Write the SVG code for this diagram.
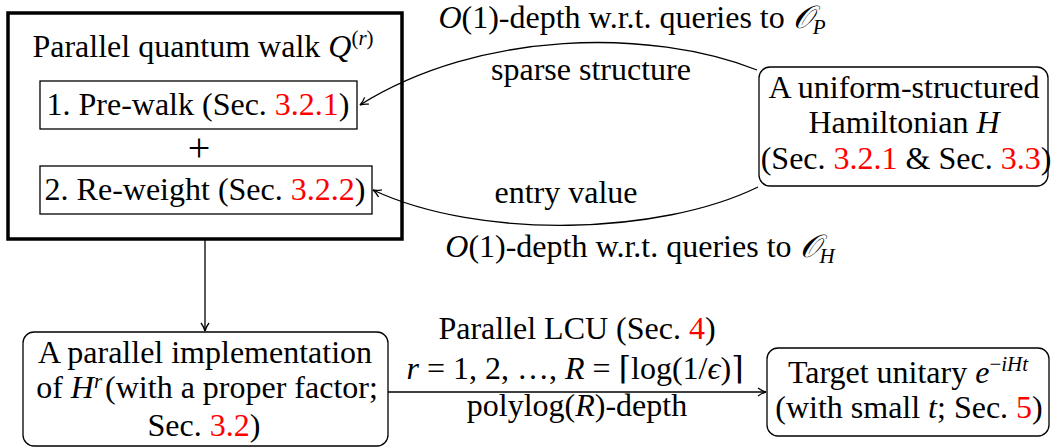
<svg xmlns="http://www.w3.org/2000/svg" width="1053" height="448" viewBox="0 0 1053 448">
<defs>
<style>
text{font-family:"Liberation Serif","DejaVu Serif",serif;font-size:32px;fill:#000;text-anchor:middle}
.i{font-style:italic}
.red{fill:#ff0000}
.sup{font-size:21px}
.box{fill:#fff;stroke:#000;stroke-width:1.3}
.edge{fill:none;stroke:#000;stroke-width:1.3}
</style>
<marker id="arr" markerWidth="12" markerHeight="10" refX="10" refY="5" orient="auto" markerUnits="userSpaceOnUse" viewBox="0 0 12 10">
<path d="M2 1 Q6 4 10 5 Q6 6 2 9" fill="none" stroke="#000" stroke-width="1.3"/>
</marker>
</defs>
<rect width="1053" height="448" fill="#fff"/>
<g id="connectors">
<path class="edge" d="M757 70 C650 28 480 30 360 105" marker-end="url(#arr)"/>
<path class="edge" d="M758 187 C660 235 480 240 373 190" marker-end="url(#arr)"/>
<path class="edge" d="M205 239 L205 331" marker-end="url(#arr)"/>
<path class="edge" d="M388 392 L766 392" marker-end="url(#arr)"/>
<text x="632" y="28"><tspan class="i">O</tspan>(1)-depth w.r.t. queries to <tspan class="i">𝒪</tspan><tspan class="i sup" dy="6">P</tspan></text>
<text x="591" y="80">sparse structure</text>
<text x="566" y="203">entry value</text>
<text x="640" y="257"><tspan class="i">O</tspan>(1)-depth w.r.t. queries to <tspan class="i">𝒪</tspan><tspan class="i sup" dy="6">H</tspan></text>
<text x="577" y="339">Parallel LCU (Sec. <tspan class="red">4</tspan>)</text>
<text x="575" y="379"><tspan class="i">r</tspan> = 1, 2, …, <tspan class="i">R</tspan> = ⌈log(1/<tspan class="i">ϵ</tspan>)⌉</text>
<text x="577" y="416">polylog(<tspan class="i">R</tspan>)-depth</text>
</g>
<g id="walk">
<rect x="8" y="13" width="394" height="226" fill="none" stroke="#000" stroke-width="3.5"/>
<text x="203" y="57">Parallel quantum walk <tspan class="i">Q</tspan><tspan class="sup" dy="-12">(<tspan class="i">r</tspan>)</tspan></text>
</g>
<g id="prewalk">
<rect class="box" x="40" y="81" width="317" height="48"/>
<text x="198" y="115">1. Pre-walk (Sec. <tspan class="red">3.2.1</tspan>)</text>
</g>
<g id="plus">
<text x="199" y="161" style="font-size:40px">+</text>
</g>
<g id="reweight">
<rect class="box" x="40" y="166" width="332" height="48"/>
<text x="205" y="200">2. Re-weight (Sec. <tspan class="red">3.2.2</tspan>)</text>
</g>
<g id="hamiltonian">
<rect class="box" x="759" y="67" width="289" height="119" rx="11"/>
<text x="904" y="98">A uniform-structured</text>
<text x="904" y="133">Hamiltonian <tspan class="i">H</tspan></text>
<text x="906" y="169">(Sec. <tspan class="red">3.2.1</tspan> &amp; Sec. <tspan class="red">3.3</tspan>)</text>
</g>
<g id="implementation">
<rect class="box" x="23" y="332" width="365" height="114" rx="11"/>
<text x="205" y="363">A parallel implementation</text>
<text x="207" y="398">of <tspan class="i">H</tspan><tspan class="i sup" dy="-10">r</tspan><tspan dy="10" dx="3">(with a proper factor;</tspan></text>
<text x="204" y="436">Sec. <tspan class="red">3.2</tspan>)</text>
</g>
<g id="target">
<rect class="box" x="767" y="348" width="282" height="88" rx="11"/>
<text x="908" y="383">Target unitary <tspan class="i">e</tspan><tspan class="sup" dy="-12">−<tspan class="i">iHt</tspan></tspan></text>
<text x="909" y="418">(with small <tspan class="i">t</tspan>; Sec. <tspan class="red">5</tspan>)</text>
</g>
</svg>
